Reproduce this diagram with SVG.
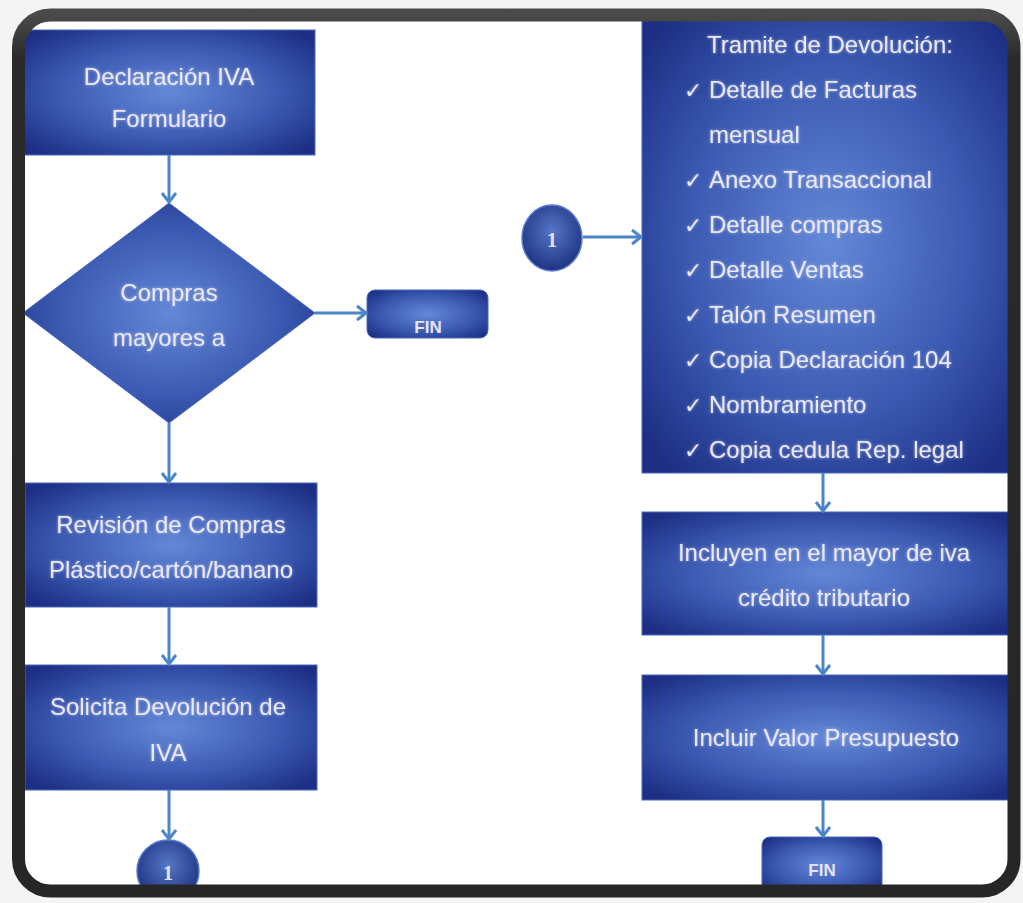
<svg xmlns="http://www.w3.org/2000/svg" width="1023" height="903" viewBox="0 0 1023 903">
<defs>
<radialGradient id="gBox" cx="50%" cy="50%" r="65%">
<stop offset="0" stop-color="#6488d8"/>
<stop offset="0.6" stop-color="#3a58b0"/>
<stop offset="1" stop-color="#1c2f84"/>
</radialGradient>
<radialGradient id="gCirc" cx="50%" cy="40%" r="60%">
<stop offset="0" stop-color="#5676c6"/>
<stop offset="1" stop-color="#1e3382"/>
</radialGradient>
<linearGradient id="gFrame" x1="0" y1="0" x2="0" y2="1">
<stop offset="0" stop-color="#4a4a4a"/>
<stop offset="0.05" stop-color="#2a2a2a"/>
<stop offset="1" stop-color="#262626"/>
</linearGradient>
<clipPath id="inner"><rect x="18.5" y="15" width="995.5" height="876" rx="32"/></clipPath>
<marker id="arr" markerUnits="userSpaceOnUse" markerWidth="18" markerHeight="18" refX="11" refY="9" orient="auto">
<path d="M2,2 L11,9 L2,16" fill="none" stroke="#4a86c8" stroke-width="3" stroke-linejoin="miter"/>
</marker>
<filter id="glow" x="-10%" y="-30%" width="120%" height="160%">
<feGaussianBlur in="SourceAlpha" stdDeviation="1.6" result="b"/>
<feFlood flood-color="#ffffff" flood-opacity="0.5"/>
<feComposite in2="b" operator="in" result="g"/>
<feMerge><feMergeNode in="g"/><feMergeNode in="SourceGraphic"/></feMerge>
</filter>
</defs>
<style>
.box{fill:url(#gBox);stroke:#4868bf;stroke-width:1}
.circ{fill:url(#gCirc);stroke:#5b7bcf;stroke-width:1.5}
.t{font-family:"Liberation Sans",Arial,sans-serif;font-size:24px;fill:#ebe8f8;text-anchor:middle;filter:url(#glow)}
.tl{font-family:"Liberation Sans",Arial,sans-serif;font-size:24px;fill:#ebe8f8;filter:url(#glow)}
.chk{font-family:"DejaVu Sans",sans-serif;font-size:22px}
.fin{font-family:"Liberation Sans",Arial,sans-serif;font-size:17px;font-weight:bold;fill:#e6e4f6;text-anchor:middle}
.one{font-family:"Liberation Serif",serif;font-size:20px;font-weight:bold;fill:#e6e4f6;text-anchor:middle}
.con{stroke:#4a86c8;stroke-width:3;fill:none;marker-end:url(#arr)}
</style>
<rect x="0" y="0" width="1023" height="903" fill="#f4f4f4"/>
<g clip-path="url(#inner)">
<rect x="18.5" y="15" width="995.5" height="876" fill="#ffffff"/>
<g id="n1"><rect class="box" x="23" y="30" width="292" height="125"/>
<text class="t" x="169" y="85">Declaración IVA</text>
<text class="t" x="169" y="127">Formulario</text></g>
<g id="n2"><polygon class="box" points="169,203 315,313 169,423 23,313"/>
<text class="t" x="169" y="301">Compras</text>
<text class="t" x="169" y="346">mayores a</text></g>
<g id="n3"><rect class="box" x="367" y="290" width="121" height="48" rx="8"/>
<text class="fin" x="428" y="333">FIN</text></g>
<g id="n4"><rect class="box" x="25" y="483" width="292" height="124"/>
<text class="t" x="171" y="533">Revisión de Compras</text>
<text class="t" x="171" y="578">Plástico/cartón/banano</text></g>
<g id="n5"><rect class="box" x="25" y="665" width="292" height="125"/>
<text class="t" x="168" y="715">Solicita Devolución de</text>
<text class="t" x="168" y="761">IVA</text></g>
<g id="n6"><circle class="circ" cx="168" cy="871" r="31"/>
<text class="one" x="168" y="880">1</text></g>
<g id="n7"><ellipse class="circ" cx="552" cy="238" rx="30" ry="33"/>
<text class="one" x="552" y="247">1</text></g>
<g id="n8"><rect class="box" x="642" y="12" width="374" height="461"/>
<text class="t" x="830" y="53">Tramite de Devolución:</text>
<text class="tl" x="684" y="98"><tspan class="chk">✓</tspan><tspan x="709">Detalle de Facturas</tspan></text>
<text class="tl" x="709" y="143">mensual</text>
<text class="tl" x="684" y="188"><tspan class="chk">✓</tspan><tspan x="709">Anexo Transaccional</tspan></text>
<text class="tl" x="684" y="233"><tspan class="chk">✓</tspan><tspan x="709">Detalle compras</tspan></text>
<text class="tl" x="684" y="278"><tspan class="chk">✓</tspan><tspan x="709">Detalle Ventas</tspan></text>
<text class="tl" x="684" y="323"><tspan class="chk">✓</tspan><tspan x="709">Talón Resumen</tspan></text>
<text class="tl" x="684" y="368"><tspan class="chk">✓</tspan><tspan x="709">Copia Declaración 104</tspan></text>
<text class="tl" x="684" y="413"><tspan class="chk">✓</tspan><tspan x="709">Nombramiento</tspan></text>
<text class="tl" x="684" y="458"><tspan class="chk">✓</tspan><tspan x="709">Copia cedula Rep. legal</tspan></text></g>
<g id="n9"><rect class="box" x="642" y="512" width="370" height="123"/>
<text class="t" x="824" y="561">Incluyen en el mayor de iva</text>
<text class="t" x="824" y="606">crédito tributario</text></g>
<g id="n10"><rect class="box" x="642" y="675" width="370" height="125"/>
<text class="t" x="826" y="746">Incluir Valor Presupuesto</text></g>
<g id="n11"><rect class="box" x="762" y="837" width="120" height="56" rx="8"/>
<text class="fin" x="822" y="876">FIN</text></g>
<g id="connectors">
<line class="con" x1="169" y1="155" x2="169" y2="202"/>
<line class="con" x1="315" y1="313" x2="366" y2="313"/>
<line class="con" x1="169" y1="423" x2="169" y2="482"/>
<line class="con" x1="169" y1="607" x2="169" y2="664"/>
<line class="con" x1="169" y1="790" x2="169" y2="839"/>
<line class="con" x1="583" y1="237" x2="641" y2="237"/>
<line class="con" x1="823" y1="473" x2="823" y2="511"/>
<line class="con" x1="823" y1="635" x2="823" y2="674"/>
<line class="con" x1="823" y1="800" x2="823" y2="836"/>
</g>
</g>
<rect x="18.5" y="15" width="995.5" height="876" rx="32" fill="none" stroke="url(#gFrame)" stroke-width="13"/>
</svg>
